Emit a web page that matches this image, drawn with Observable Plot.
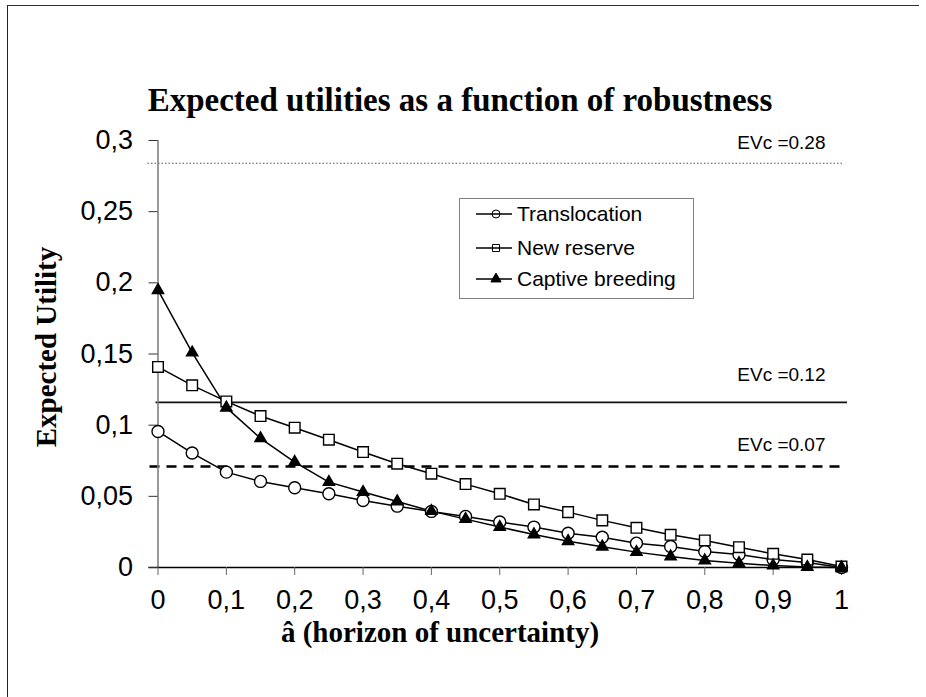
<!DOCTYPE html>
<html>
<head>
<meta charset="utf-8">
<script src="https://cdn.jsdelivr.net/npm/d3@7"></script>
<script src="https://cdn.jsdelivr.net/npm/@observablehq/plot@0.6"></script>
<style>
  html, body { margin: 0; padding: 0; background: #fff; }
  #wrap { position: relative; width: 926px; height: 697px; overflow: hidden; background: #fff; }
  #wrap > svg { position: absolute; left: 0; top: 0; }
  .frame-top { position: absolute; left: 7px; top: 5px; width: 912px; height: 0; border-top: 1px solid #333; }
  .frame-left { position: absolute; left: 7px; top: 5px; width: 0; height: 700px; border-left: 1.5px solid #222; }
  #title { position: absolute; left: 460px; top: 100px; transform: translate(-50%, -50%);
    white-space: nowrap; font-family: "Liberation Serif", "DejaVu Serif", serif; font-weight: bold; font-size: 33px; line-height: 38px; color: #000; }
  #ylab { position: absolute; left: 46px; top: 347px; transform: translate(-50%, -50%) rotate(-90deg);
    white-space: nowrap; font-family: "Liberation Serif", serif; font-weight: bold; font-size: 29px; line-height: 30px; }
  #xlab { position: absolute; left: 440px; top: 632px; transform: translate(-50%, -50%);
    white-space: nowrap; font-family: "Liberation Serif", serif; font-weight: bold; font-size: 29px; line-height: 30px; }
  #legend { position: absolute; left: 459px; top: 198px; width: 233px; height: 99px; border: 1.5px solid #808080; background: #fff;
    font-family: "Liberation Sans", Arial, sans-serif; font-size: 21px; }
  #legend .row { position: absolute; left: 14px; height: 24px; display: flex; align-items: center; white-space: nowrap; }
  #legend .row svg { position: static; display: block; margin-right: 3px; }
</style>
</head>
<body>
<div id="wrap">
  <div class="frame-top"></div>
  <div class="frame-left"></div>
  <div id="title">Expected utilities as a function of robustness</div>
  <div id="ylab">Expected Utility</div>
  <div id="xlab">â (horizon of uncertainty)</div>
</div>
<script>
// ---- data ----
const alpha = [0, 0.05, 0.1, 0.15, 0.2, 0.25, 0.3, 0.35, 0.4, 0.45, 0.5, 0.55, 0.6, 0.65, 0.7, 0.75, 0.8, 0.85, 0.9, 0.95, 1];
const translocation = [0.0956, 0.0804, 0.0670, 0.0605, 0.0560, 0.0518, 0.0471, 0.0431, 0.0394, 0.0359, 0.0320, 0.0284, 0.0241, 0.0213, 0.0171, 0.0148, 0.0113, 0.0091, 0.0056, 0.0035, 0.0];
const newReserve = [0.1409, 0.1280, 0.1167, 0.1064, 0.0982, 0.0898, 0.0811, 0.0729, 0.0659, 0.0586, 0.0518, 0.0443, 0.0389, 0.0331, 0.0279, 0.0230, 0.0190, 0.0143, 0.0096, 0.0056, 0.0007];
const captiveBreeding = [0.1948, 0.1510, 0.1123, 0.0907, 0.0741, 0.0600, 0.0530, 0.0464, 0.0396, 0.0340, 0.0284, 0.0232, 0.0185, 0.0146, 0.0108, 0.0077, 0.0049, 0.0030, 0.0014, 0.0003, 0.0];
const seriesNames = ["Translocation", "New reserve", "Captive breeding"];
const evcValues = [0.284, 0.116, 0.071];
const evcLabels = ["EVc =0.28", "EVc =0.12", "EVc =0.07"];
const xTicks = [0, 0.1, 0.2, 0.3, 0.4, 0.5, 0.6, 0.7, 0.8, 0.9, 1];
const xTickLabels = ["0", "0,1", "0,2", "0,3", "0,4", "0,5", "0,6", "0,7", "0,8", "0,9", "1"];
const yTicks = [0, 0.05, 0.1, 0.15, 0.2, 0.25, 0.3];
const yTickLabels = ["0", "0,05", "0,1", "0,15", "0,2", "0,25", "0,3"];

// ---- build table ----
const seriesValues = [translocation, newReserve, captiveBreeding];
const rows = seriesNames.flatMap((name, s) => alpha.map((a, i) => ({series: name, a, u: seriesValues[s][i]})));
const bySeries = name => rows.filter(d => d.series === name);
const evc = evcValues.map((v, i) => ({v, label: evcLabels[i]}));

// styles
const symbols = {"Translocation": "circle", "New reserve": "square", "Captive breeding": "triangle"};
const dotR = {"Translocation": 6, "New reserve": 6, "Captive breeding": 4.2};
const dotFill = {"Translocation": "white", "New reserve": "white", "Captive breeding": "black"};
const evcStyle = [
  {stroke: "#555", strokeWidth: 1.2, strokeDasharray: "1.5,2", insetLeft: -10, insetRight: -1, dy: -14},
  {stroke: "#111", strokeWidth: 1.6, strokeDasharray: null, insetLeft: -2, insetRight: -6, dy: -21},
  {stroke: "#000", strokeWidth: 2.6, strokeDasharray: "10,7", insetLeft: -8, insetRight: -1, dy: -15}
];

const marks = [];
// reference lines
evc.forEach((e, i) => {
  const st = evcStyle[i];
  marks.push(Plot.ruleY([e], {y: "v", stroke: st.stroke, strokeWidth: st.strokeWidth, strokeDasharray: st.strokeDasharray, insetLeft: st.insetLeft, insetRight: st.insetRight}));
  marks.push(Plot.text([e], {x: () => 1, y: "v", text: "label", textAnchor: "end", lineAnchor: "bottom", dx: -16, dy: st.dy, fontSize: 19, fill: "#000"}));
});
// axes lines
marks.push(Plot.ruleX([0], {stroke: "#808080", strokeWidth: 1.6}));
marks.push(Plot.ruleY([0], {stroke: "#000", strokeWidth: 1.3, insetLeft: -9}));
marks.push(Plot.axisY({ticks: yTicks, tickFormat: d => yTickLabels[yTicks.indexOf(d)], tickSize: 9, tickPadding: 16, fontSize: 27, stroke: "#333", fill: "#000", label: null}));
marks.push(Plot.axisX({ticks: xTicks, tickFormat: d => xTickLabels[xTicks.indexOf(d)], tickSize: 8, tickPadding: 14, fontSize: 27, stroke: "#666", fill: "#000", label: null}));
// series
seriesNames.forEach(name => {
  marks.push(Plot.line(bySeries(name), {x: "a", y: "u", stroke: "#000", strokeWidth: 1.5}));
});
seriesNames.forEach(name => {
  marks.push(Plot.dot(bySeries(name), {x: "a", y: "u", symbol: symbols[name], r: dotR[name], fill: dotFill[name], stroke: "#000", strokeWidth: 1.4}));
});

const chart = Plot.plot({
  width: 926,
  height: 697,
  marginLeft: 157.5,
  marginRight: 85,
  marginTop: 140,
  marginBottom: 130,
  x: {domain: [0, 1]},
  y: {domain: [0, 0.3]},
  style: {fontFamily: "'Liberation Sans', Arial, sans-serif", background: "transparent", overflow: "visible"},
  marks
});
const wrap = document.getElementById("wrap");
wrap.insertBefore(chart, wrap.firstChild);

// ---- legend ----
const legend = document.createElement("div");
legend.id = "legend";
const rowTops = [3, 37, 68];
seriesNames.forEach((name, i) => {
  const row = document.createElement("div");
  row.className = "row";
  row.style.top = rowTops[i] + "px";
  const type = name === "Translocation" ? d3.symbolCircle : name === "New reserve" ? d3.symbolSquare : d3.symbolTriangle;
  const sym = d3.symbol(type, name === "Captive breeding" ? 45 : 50)();
  row.innerHTML = `<svg width="40" height="16" viewBox="0 0 40 16">
      <line x1="2" x2="38" y1="8" y2="8" stroke="#000" stroke-width="1.5"></line>
      <path d="${sym}" transform="translate(22,8)" fill="${name === "Captive breeding" ? "#000" : "none"}" stroke="#000" stroke-width="1"></path>
    </svg><span>${name}</span>`;
  legend.appendChild(row);
});
wrap.appendChild(legend);
</script>
</body>
</html>
